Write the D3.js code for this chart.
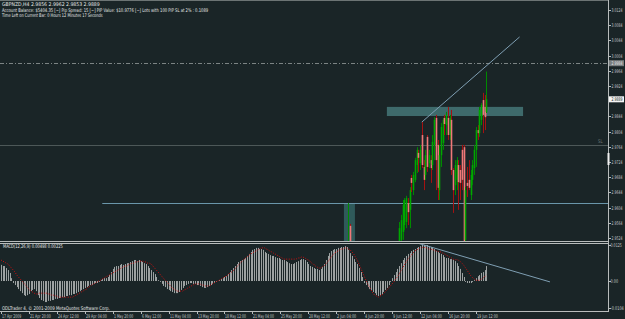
<html>
<head>
<meta charset="utf-8">
<title>GBPNZD,H4</title>
<style>
  body { margin: 0; background-color: #1a2527; }
  svg { display: block; font-family: "DejaVu Sans", "Liberation Sans", Arial, sans-serif; }
</style>
</head>
<body>
<div id="chart"></div>
<script src="https://d3js.org/d3.v7.min.js"></script>
<script>
// ---- chart data ----
const headerLines = [
  "GBPNZD,H4  2.9856 2.9962 2.9853 2.9889",
  "Account Balance: $5404.35 [~] Pip Spread: 15 [~] PIP Value: $10.9776 [~] Lots with 100 PIP SL at 2% : 0.1089",
  "Time Left on Current Bar: 0 Hours 12 Minutes 17 Seconds"
];
const headerWidths = [98, 207, 101];

const priceTicks = [3.0124, 3.0084, 3.0044, 3.0004, 2.9964, 2.9924, 2.9884, 2.9844,
                    2.9804, 2.9764, 2.9724, 2.9684, 2.9644, 2.9604, 2.9564, 2.9524];

const timeLabels = ["17 Apr 2009", "21 Apr 20:00", "24 Apr 12:00", "29 Apr 04:00", "1 May 20:00",
  "6 May 12:00", "11 May 04:00", "13 May 20:00", "18 May 12:00", "21 May 04:00", "25 May 20:00",
  "28 May 12:00", "2 Jun 04:00", "4 Jun 20:00", "9 Jun 12:00", "12 Jun 04:00", "16 Jun 20:00", "19 Jun 12:00"];
const timeLabelBars = [0, 16, 32, 48, 64, 80, 96, 112, 128, 144, 160, 176, 192, 208, 224, 240, 256, 272];

// H4 candles that fall inside the visible price range (bar index from the first bar on screen)
const candleBar   = [199, 200, 228, 229, 230, 231, 232, 233, 234, 235, 236, 237, 238, 239, 240, 241, 242, 243,
  244, 245, 246, 247, 248, 249, 250, 251, 252, 253, 254, 255, 256, 257, 258, 259, 260, 261, 262, 263, 264,
  265, 266, 267, 268, 269, 270, 271, 272, 273, 274, 275, 276, 277, 278];
const candleOpen  = [2.9492, 2.9556, 2.9506, 2.9519, 2.9540, 2.9558, 2.9566, 2.9616, 2.9598, 2.9682, 2.9650,
  2.9677, 2.9716, 2.9748, 2.9721, 2.9795, 2.9711, 2.9690, 2.9790, 2.9721, 2.9729, 2.9716, 2.9769, 2.9840,
  2.9769, 2.9650, 2.9742, 2.9774, 2.9840, 2.9821, 2.9840, 2.9795, 2.9835, 2.9703, 2.9663, 2.9677, 2.9716,
  2.9703, 2.9756, 2.9763, 2.9519, 2.9669, 2.9677, 2.9637, 2.9677, 2.9708, 2.9756, 2.9808, 2.9800, 2.9835,
  2.9887, 2.9869, 2.9856];
const candleHigh  = [2.9616, 2.9561, 2.9566, 2.9585, 2.9624, 2.9629, 2.9635, 2.9629, 2.9658, 2.9690, 2.9698,
  2.9735, 2.9763, 2.9756, 2.9769, 2.9829, 2.9729, 2.9756, 2.9795, 2.9756, 2.9742, 2.9795, 2.9842, 2.9848,
  2.9782, 2.9769, 2.9827, 2.9840, 2.9848, 2.9856, 2.9869, 2.9848, 2.9861, 2.9708, 2.9729, 2.9737, 2.9729,
  2.9716, 2.9769, 2.9769, 2.9658, 2.9711, 2.9729, 2.9703, 2.9729, 2.9769, 2.9816, 2.9821, 2.9869, 2.9879,
  2.9906, 2.9900, 2.9962];
const candleLow   = [2.9479, 2.9492, 2.9492, 2.9506, 2.9519, 2.9545, 2.9550, 2.9558, 2.9550, 2.9645, 2.9637,
  2.9671, 2.9695, 2.9698, 2.9703, 2.9708, 2.9650, 2.9677, 2.9698, 2.9708, 2.9669, 2.9703, 2.9729, 2.9650,
  2.9624, 2.9624, 2.9711, 2.9756, 2.9795, 2.9795, 2.9782, 2.9782, 2.9690, 2.9590, 2.9637, 2.9650, 2.9598,
  2.9624, 2.9650, 2.9479, 2.9492, 2.9632, 2.9650, 2.9624, 2.9663, 2.9690, 2.9711, 2.9782, 2.9790, 2.9821,
  2.9800, 2.9808, 2.9853];
const candleClose = [2.9506, 2.9506, 2.9550, 2.9571, 2.9611, 2.9624, 2.9629, 2.9592, 2.9650, 2.9669, 2.9690,
  2.9729, 2.9756, 2.9735, 2.9756, 2.9716, 2.9677, 2.9742, 2.9711, 2.9742, 2.9708, 2.9777, 2.9835, 2.9729,
  2.9656, 2.9742, 2.9816, 2.9835, 2.9824, 2.9848, 2.9795, 2.9840, 2.9703, 2.9650, 2.9716, 2.9729, 2.9671,
  2.9669, 2.9677, 2.9506, 2.9650, 2.9661, 2.9656, 2.9690, 2.9716, 2.9756, 2.9808, 2.9800, 2.9861, 2.9874,
  2.9848, 2.9842, 2.9889];

// MACD(12,26,9), values in units of 0.0001, one per bar
const macdHist = [
  56, 52, 52, 45, 38, 28, 10, -7, -14, -21,
  -28, -35, -42, -49, -52, -49, -45, -35, -31, -28,
  -35, -49, -59, -66, -69, -73, -73, -69, -69, -66,
  -66, -62, -62, -59, -59, -56, -56, -52, -52, -49,
  -49, -45, -45, -42, -38, -35, -31, -28, -24, -21,
  -17, -14, -14, -10, -7, -7, -3, 3, 7, 10,
  10, 14, 21, 31, 42, 49, 52, 52, 56, 59,
  56, 59, 62, 62, 66, 69, 73, 73, 69, 73,
  69, 66, 62, 59, 52, 45, 38, 31, 24, 14,
  3, -3, -10, -17, -21, -28, -31, -35, -38, -42,
  -42, -42, -38, -31, -24, -17, -14, -10, -7, -7,
  -10, -10, -14, -14, -17, -21, -24, -24, -21, -17,
  -14, -10, -7, -3, 0, 3, 7, 10, 14, 17,
  24, 31, 38, 45, 52, 59, 66, 69, 73, 76,
  80, 87, 94, 101, 108, 111, 115, 115, 111, 111,
  108, 101, 97, 94, 90, 87, 87, 83, 80, 80,
  76, 73, 73, 69, 66, 62, 59, 59, 62, 66,
  69, 73, 76, 76, 73, 66, 59, 52, 49, 45,
  42, 42, 38, 42, 49, 59, 73, 87, 97, 104,
  108, 111, 111, 115, 115, 118, 118, 121, 118, 108,
  97, 87, 76, 66, 59, 45, 31, 14, -7, -14,
  -21, -28, -31, -38, -42, -49, -52, -49, -45, -38,
  -31, -24, -14, -3, 10, 21, 31, 42, 52, 62,
  73, 80, 87, 94, 97, 104, 108, 111, 115, 118,
  121, 125, 125, 121, 125, 121, 118, 115, 111, 104,
  101, 97, 94, 90, 83, 80, 80, 76, 76, 73,
  69, 62, 52, 42, 28, 14, -3, -7, -7, -7,
  -3, 3, 10, 17, 21, 28, 31, 38, 52];
const macdSignal = [
  73, 69, 66, 62, 59, 52, 45, 38, 31, 21,
  14, 7, 0, -7, -14, -21, -28, -35, -38, -42,
  -45, -45, -42, -42, -42, -42, -42, -45, -45, -49,
  -49, -52, -52, -56, -56, -56, -56, -56, -56, -56,
  -56, -56, -52, -49, -45, -42, -38, -35, -31, -28,
  -21, -17, -14, -10, -7, -3, 0, 3, 7, 10,
  14, 17, 21, 24, 28, 31, 35, 38, 42, 45,
  49, 52, 52, 56, 59, 62, 62, 66, 66, 69,
  69, 69, 66, 66, 62, 62, 59, 52, 45, 38,
  31, 24, 17, 10, 3, -3, -10, -17, -24, -28,
  -31, -35, -35, -35, -35, -31, -28, -24, -21, -17,
  -14, -10, -10, -10, -10, -14, -14, -17, -17, -17,
  -14, -10, -7, -3, 0, 3, 7, 10, 14, 17,
  21, 28, 31, 35, 42, 49, 56, 62, 69, 73,
  80, 83, 90, 94, 97, 101, 104, 108, 111, 115,
  115, 115, 111, 108, 104, 101, 97, 94, 90, 87,
  83, 80, 76, 76, 76, 76, 76, 76, 76, 76,
  80, 80, 83, 83, 80, 76, 73, 69, 62, 59,
  52, 49, 45, 45, 49, 52, 59, 66, 73, 83,
  90, 97, 101, 104, 108, 111, 111, 115, 115, 111,
  108, 101, 94, 83, 73, 59, 45, 31, 17, 3,
  -10, -21, -31, -42, -49, -52, -56, -52, -49, -45,
  -38, -31, -24, -17, -10, -3, 7, 14, 24, 35,
  45, 56, 66, 76, 83, 90, 97, 104, 108, 111,
  115, 115, 118, 115, 115, 111, 111, 108, 108, 104,
  104, 101, 101, 97, 94, 90, 87, 83, 80, 76,
  73, 75, 72, 68, 62, 55, 46, 37, 28, 19,
  12, 7, 3, 2, 3, 6, 10, 15, 22];
const macdTicks = [125, 0, -104];
const macdTickText = ["0.0125", "0.00", "-0.0104"];

// ---- layout ----
const width = 625, height = 319;
const axisX = 608;
const mainTop = 1, mainBottom = 241;
const macdTop = 243, macdBottom = 311;

const svg = d3.select("#chart").append("svg")
  .attr("width", width).attr("height", height);
svg.append("rect").attr("width", width).attr("height", height).attr("fill", "#1a2527");

const x = d3.scaleLinear().domain([0, 278]).range([1, 486.4]);
const y = d3.scaleLinear().domain([2.9524, 3.0124]).range([238, 10]);
const ym = d3.scaleLinear().domain([-104, 125]).range([311, 245]);
const px = i => Math.round(x(i)) + 0.5;

// narrow terminal-style text: draw at 5px, then squeeze horizontally to the wanted width
function narrowText(parent, str, x0, y0, w, color, middle) {
  const t = parent.append("text")
    .attr("font-size", 5).attr("fill", color)
    .attr("dy", middle ? "0.35em" : null)
    .text(str);
  const natural = t.node().getComputedTextLength() || w;
  t.attr("transform", "translate(" + x0 + "," + y0 + ") scale(" + (w / natural) + ",1)");
  return t;
}

const defs = svg.append("defs");
defs.append("clipPath").attr("id", "clipMain").append("rect")
  .attr("x", 0).attr("y", mainTop).attr("width", axisX).attr("height", mainBottom - mainTop);
defs.append("clipPath").attr("id", "clipMacd").append("rect")
  .attr("x", 0).attr("y", macdTop + 1).attr("width", axisX).attr("height", macdBottom - macdTop - 1);

const main = svg.append("g").attr("clip-path", "url(#clipMain)");
const macd = svg.append("g").attr("clip-path", "url(#clipMacd)");

// chart objects behind the bars
main.append("rect")
  .attr("x", x(221)).attr("y", y(2.9869))
  .attr("width", x(299) - x(221)).attr("height", y(2.9845) - y(2.9869))
  .attr("fill", "#3e6a6b");
main.append("rect")
  .attr("x", x(196.4)).attr("y", y(2.9616))
  .attr("width", x(202.7) - x(196.4)).attr("height", mainBottom - y(2.9616))
  .attr("fill", "#2f5a5a");

main.append("line")
  .attr("x1", 0).attr("x2", axisX).attr("y1", Math.round(y(2.9984)) + 0.5).attr("y2", Math.round(y(2.9984)) + 0.5)
  .attr("stroke", "#7c8484").attr("stroke-width", 1).attr("stroke-dasharray", "4,2,1,2");
main.append("line")
  .attr("x1", 0).attr("x2", axisX).attr("y1", Math.round(y(2.9769)) + 0.5).attr("y2", Math.round(y(2.9769)) + 0.5)
  .attr("stroke", "#4d5858").attr("stroke-width", 1);
narrowText(main, "SL", 598, y(2.9769) - 2, 4.5, "#707878", false);
main.append("line")
  .attr("x1", x(58)).attr("x2", axisX).attr("y1", Math.round(y(2.9616)) + 0.5).attr("y2", Math.round(y(2.9616)) + 0.5)
  .attr("stroke", "#6a96aa").attr("stroke-width", 1);
main.append("line")
  .attr("x1", x(241)).attr("y1", y(2.9829)).attr("x2", x(297)).attr("y2", y(3.0053))
  .attr("stroke", "#7f9fb3").attr("stroke-width", 1);

// candles
const candles = candleBar.map((b, k) => ({
  bar: b, o: candleOpen[k], h: candleHigh[k], l: candleLow[k], c: candleClose[k]
}));
const cg = main.selectAll(".candle").data(candles).enter().append("g").attr("class", "candle");
cg.append("line")
  .attr("x1", d => px(d.bar)).attr("x2", d => px(d.bar))
  .attr("y1", d => y(d.h)).attr("y2", d => y(d.l))
  .attr("stroke", d => d.c >= d.o ? "#008a00" : "#a31212").attr("stroke-width", 1);
cg.append("rect")
  .attr("x", d => px(d.bar) - 0.8).attr("width", 1.6)
  .attr("y", d => y(Math.max(d.o, d.c)))
  .attr("height", d => Math.max(1, Math.abs(y(d.o) - y(d.c))))
  .attr("fill", d => d.c >= d.o ? "#00a800" : "#f07878");

// MACD histogram + signal
macd.selectAll(".hist").data(macdHist).enter().append("line")
  .attr("class", "hist")
  .attr("x1", (d, i) => px(i)).attr("x2", (d, i) => px(i))
  .attr("y1", ym(0)).attr("y2", d => ym(d))
  .attr("stroke", "#9da2a2").attr("stroke-width", 1);
macd.append("path")
  .datum(macdSignal)
  .attr("d", d3.line().x((d, i) => x(i)).y(d => ym(d)))
  .attr("fill", "none").attr("stroke", "#d01010").attr("stroke-width", 1)
  .attr("stroke-dasharray", "1,1.5");
macd.append("line")
  .attr("x1", x(238.3)).attr("y1", ym(132)).attr("x2", x(314.4)).attr("y2", ym(-3))
  .attr("stroke", "#7f9fb3").attr("stroke-width", 1);

// frames
const frame = "#b8bcbc";
svg.append("line").attr("x1", 0).attr("x2", axisX).attr("y1", 0.5).attr("y2", 0.5).attr("stroke", "#6c7474");
svg.append("line").attr("x1", 0).attr("x2", axisX + 1).attr("y1", 241.5).attr("y2", 241.5).attr("stroke", frame);
svg.append("line").attr("x1", 0).attr("x2", axisX + 1).attr("y1", 243.5).attr("y2", 243.5).attr("stroke", frame);
svg.append("line").attr("x1", 0).attr("x2", axisX + 1).attr("y1", 311.5).attr("y2", 311.5).attr("stroke", frame);
svg.append("line").attr("x1", axisX + 0.5).attr("x2", axisX + 0.5).attr("y1", 0).attr("y2", 312).attr("stroke", frame);

// price axis (labels under the marker boxes are left out, the boxes cover them)
const labelColor = "#c4c8c8";
const boxPrices = [2.9984, 2.9889];
priceTicks.forEach(p => {
  const yy = Math.round(y(p)) + 0.5;
  svg.append("line").attr("x1", axisX).attr("x2", axisX + 3).attr("y1", yy).attr("y2", yy).attr("stroke", frame);
  if (boxPrices.some(b => Math.abs(y(b) - y(p)) < 5)) return;
  narrowText(svg, p.toFixed(4), 611.5, yy, 11, labelColor, true);
});
// level label and bid label boxes
svg.append("rect").attr("x", 609).attr("y", y(2.9984) - 3).attr("width", 15).attr("height", 6).attr("fill", "#7a7f80");
narrowText(svg, "2.9984", 611.5, y(2.9984), 11, "#e8e8e8", true);
svg.append("rect").attr("x", 609).attr("y", y(2.9889) - 3).attr("width", 15).attr("height", 6).attr("fill", "#f4f4f4");
narrowText(svg, "2.9889", 611.5, y(2.9889), 11, "#1a2527", true);
svg.append("rect").attr("x", 607.5).attr("y", 153).attr("width", 2).attr("height", 12).attr("fill", "#f0f0f0");

// MACD axis
macdTicks.forEach((v, k) => {
  const yy = Math.min(Math.round(ym(v)) + 0.5, 308.5);
  svg.append("line").attr("x1", axisX).attr("x2", axisX + 3).attr("y1", yy).attr("y2", yy).attr("stroke", frame);
  narrowText(svg, macdTickText[k], 610.5, yy, macdTickText[k].length * 1.9, labelColor, true);
});

// time axis
timeLabels.forEach((t, k) => {
  const xx = px(timeLabelBars[k]);
  svg.append("line").attr("x1", xx).attr("x2", xx).attr("y1", 311).attr("y2", 314).attr("stroke", frame);
  narrowText(svg, t, xx + 0.5, 317.5, t.length * 1.75, labelColor, false);
});

// texts
headerLines.forEach((t, k) => {
  narrowText(svg, t, 2, 6 + k * 5.7, headerWidths[k], "#e4e6e6", false);
});
narrowText(svg, "MACD(12,26,9) 0.00498 0.00225", 3, 248, 60, "#e4e6e6", false);
narrowText(svg, "ODLTrader 4, \u00a9 2001-2009 MetaQuotes Software Corp.", 2, 309.5, 108, "#e4e6e6", false);
</script>
</body>
</html>
